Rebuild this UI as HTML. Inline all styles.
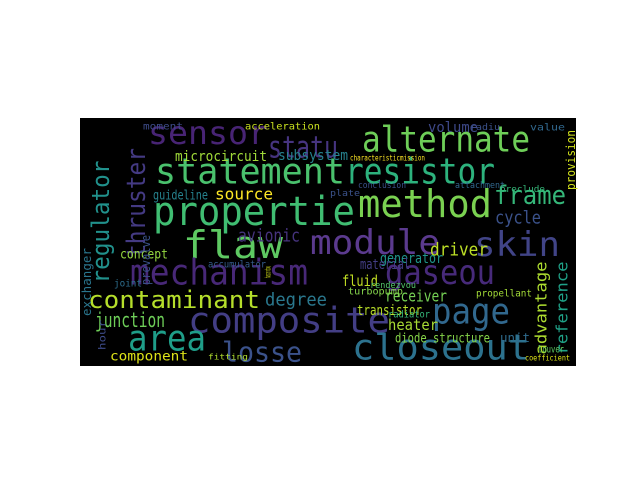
<!DOCTYPE html>
<html><head><meta charset="utf-8"><style>
html,body{margin:0;padding:0;background:#fff;width:640px;height:480px;overflow:hidden}
svg text{font-family:"DejaVu Sans Mono","Liberation Mono",monospace;dominant-baseline:central}
</style></head><body>
<svg width="640" height="480">
<rect x="80" y="118" width="496" height="248" fill="#000"/>
<g id="words"></g>
</svg>
<script>
// word, x-left, y-center, width(length), font size, color, vertical
const words=["sensor","statu","statement","resistor","alternate","propertie","method","frame","flaw","module","skin","mechanism","gaseou","contaminant","composite","page","area","closeout","losse","thruster","regulator","subsystem","microcircuit","source","guideline","avionic","volume","driver","cycle","degree","junction","receiver","transistor","heater","diode structure","advantage","reference","component","fluid","generator","concept","provision","exchanger","prevalve","accumulator","turbopump","propellant","radiator","unit","material","acceleration","moment","hour","joint","louver","rendezvou","conclusion","plate","value","radiu","attachment","preclude","characteristicmission","hazardou","fitting","coefficient"];
const xs=[148,268,155,345,362,153,358,494,183,310,474,130,385,88,188,432,128,352,222,137,101,278,175,215,153,238,428,430,495,265,95,385,357,388,395,541,562,110,342,380,120,571,87,146,208,348,476,388,500,360,245,143,103,114,538,370,358,330,530,470,455,500,350,268,208,525];
const ys=[133,148,172,172,140,212,204,196,245,243,245,273,273,300,321,312,339,348,352,203,222,156,157,194,196,236,128,250,218,300,320,296,311,325,339,308,308,357,281,259,255,160,282,260,265,292,294,315,338,265,127,127,335,284,350,286,186,194,128,128,186,190,158,272,357,358];
const ws=[120,70,190,150,168,202,134,72,100,130,86,178,110,172,202,78,78,178,80,110,123,70,92,58,55,62,50,58,46,62,70,62,65,50,95,93,93,78,36,63,48,60,68,50,58,55,56,42,30,50,75,40,30,28,26,46,48,30,35,30,50,45,75,12,40,45];
const sz=[32,30,36,36,36,40,38,26,38,34,34,36,34,24,36,36,36,36,28,26,24,14,14,16,13,18,14,18,18,18,20,16,14,15,13,16,16,13,15,14,13,12,12,12,10,10,10,10,12,14,10,10,10,10,10,9,9,9,10,9,9,9,8,8,8,8];
const cols=["#482475","#463480","#4ac16d","#2db27d","#6ece58","#40bd72","#7ad151","#35b779","#5ec962","#5b3a8e","#414487","#482878","#472a7a","#b5de2b","#433e85","#31688e","#1f9e89","#2c728e","#3b528b","#443a83","#21918c","#26828e","#a0da39","#fde725","#26828e","#46337e","#3e4989","#bddf26","#3b528b","#2a788e","#6ece58","#75d054","#b8de29","#a8db34","#86d549","#addc30","#1fa187","#dde318","#c2df23","#1f968b","#95d840","#d2e21b","#2a768e","#3b528b","#365c8d","#84d44b","#a2da37","#35b779","#2f6c8e","#433e85","#c8e020","#3e4c8a","#3e4c8a","#2e6e8e","#5ec962","#52c569","#3b528b","#3b528b","#31688e","#3b528b","#31688e","#35b779","#fde725","#d8e219","#b0dd2f","#dde318"];
const vert=[0,0,0,0,0,0,0,0,0,0,0,0,0,0,0,0,0,0,0,1,1,0,0,0,0,0,0,0,0,0,0,0,0,0,0,1,1,0,0,0,0,1,1,1,0,0,0,0,0,0,0,0,1,0,0,0,0,0,0,0,0,0,0,1,0,0];
const g=document.getElementById('words');
const NS='http://www.w3.org/2000/svg';
for(let i=0;i<words.length;i++){
  const t=document.createElementNS(NS,'text');
  
  
  t.textContent=words[i];
  t.setAttribute('font-size',sz[i]);
  t.setAttribute('fill',cols[i]);
  t.setAttribute('textLength',ws[i]);
  t.setAttribute('lengthAdjust','spacingAndGlyphs');
  if(vert[i]){
    t.setAttribute('x',0);t.setAttribute('y',0);
    t.setAttribute('transform','translate('+xs[i]+','+(ys[i]+ws[i]/2)+') rotate(-90)');
  } else {
    t.setAttribute('x',xs[i]);t.setAttribute('y',ys[i]);
  }
  g.appendChild(t);
}
</script>
</body></html>
